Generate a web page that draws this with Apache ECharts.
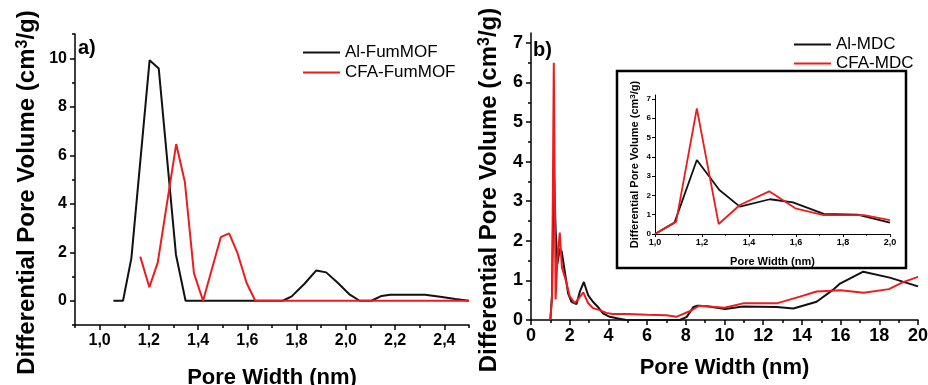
<!DOCTYPE html>
<html>
<head>
<meta charset="utf-8">
<script src="https://cdn.jsdelivr.net/npm/echarts@6/dist/echarts.min.js"></script>
<style>
  html, body { margin: 0; padding: 0; background: #fff; }
  #chart { width: 928px; height: 385px; }
</style>
</head>
<body>
<div id="chart"></div>
<script>
// panel a) - Al-FumMOF / CFA-FumMOF
const fumAlX = [1.056, 1.095, 1.129, 1.203, 1.24, 1.31, 1.349, 1.744, 1.78, 1.832, 1.88, 1.92, 1.968, 2.016, 2.056, 2.104, 2.145, 2.18, 2.227, 2.322, 2.39, 2.444, 2.5];
const fumAlY = [0, 0, 1.76, 9.92, 9.58, 1.9, 0, 0, 0.18, 0.7, 1.25, 1.17, 0.73, 0.25, 0, 0, 0.2, 0.25, 0.25, 0.25, 0.15, 0.07, 0];
const fumCfaX = [1.165, 1.202, 1.236, 1.311, 1.346, 1.383, 1.42, 1.492, 1.526, 1.56, 1.597, 1.632, 2.5];
const fumCfaY = [1.82, 0.56, 1.57, 6.46, 4.91, 1.14, 0, 2.62, 2.78, 1.96, 0.73, 0, 0];

// panel b) - Al-MDC / CFA-MDC, full range
const mdcAlX = [1.0, 1.083, 1.178, 1.274, 1.361, 1.489, 1.587, 1.8, 1.92, 2.09, 2.35, 2.52, 2.73, 2.95, 3.2, 3.46, 3.72, 4.07, 4.5, 4.93, 7.7, 8.05, 8.4, 8.6, 9.1, 10.03, 10.96, 12.7, 13.56, 14.76, 15.6, 15.97, 17.17, 18.54, 20.0];
const mdcAlY = [0, 0.59, 3.83, 2.28, 1.42, 1.8, 1.73, 1.05, 0.67, 0.46, 0.4, 0.71, 0.96, 0.63, 0.46, 0.33, 0.17, 0.08, 0.04, 0, 0, 0.08, 0.33, 0.36, 0.35, 0.28, 0.34, 0.33, 0.29, 0.46, 0.76, 0.92, 1.22, 1.07, 0.85];
const mdcCfaX = [1.0, 1.09, 1.178, 1.271, 1.361, 1.486, 1.597, 1.8, 2.0, 2.26, 2.4, 2.7, 2.95, 3.2, 3.55, 3.9, 4.2, 5.0, 6.0, 7.0, 7.5, 8.2, 8.7, 10.0, 10.96, 12.7, 13.9, 14.76, 16.0, 17.2, 18.5, 19.2, 20.0];
const mdcCfaY = [0, 0.64, 6.5, 0.52, 1.5, 2.21, 1.33, 1.0, 0.6, 0.43, 0.5, 0.7, 0.43, 0.3, 0.25, 0.18, 0.15, 0.15, 0.13, 0.12, 0.08, 0.22, 0.36, 0.31, 0.42, 0.42, 0.59, 0.72, 0.75, 0.69, 0.78, 0.95, 1.09];

// inset of panel b), 1-2 nm
const insetAlX = [1.0, 1.083, 1.178, 1.274, 1.361, 1.489, 1.587, 1.718, 1.861, 2.0];
const insetAlY = [0, 0.59, 3.83, 2.28, 1.42, 1.8, 1.64, 1.04, 1.0, 0.59];
const insetCfaX = [1.0, 1.09, 1.178, 1.271, 1.361, 1.486, 1.597, 1.718, 1.89, 2.0];
const insetCfaY = [0, 0.64, 6.5, 0.52, 1.5, 2.21, 1.33, 0.98, 0.98, 0.72];

// tick positions
const aXTicks = [1.0, 1.2, 1.4, 1.6, 1.8, 2.0, 2.2, 2.4];
const aXMinor = [0.9, 1.1, 1.3, 1.5, 1.7, 1.9, 2.1, 2.3, 2.5];
const aYTicks = [0, 2, 4, 6, 8, 10];
const aYMinor = [-1, 1, 3, 5, 7, 9, 11];
const bXTicks = [0, 2, 4, 6, 8, 10, 12, 14, 16, 18, 20];
const bXMinor = [1, 3, 5, 7, 9, 11, 13, 15, 17, 19];
const bYTicks = [0, 1, 2, 3, 4, 5, 6, 7];
const bYMinor = [0.5, 1.5, 2.5, 3.5, 4.5, 5.5, 6.5];
const inXTicks = [1.0, 1.2, 1.4, 1.6, 1.8, 2.0];
const inXMinor = [1.1, 1.3, 1.5, 1.7, 1.9];
const inYTicks = [0, 1, 2, 3, 4, 5, 6, 7];

const FONT = "'Liberation Sans', Arial, sans-serif";
const BLACK = "#111111";
const RED = "#ee1c1c";
const yTitle = "Differential Pore Volume (cm{sup|3}/g)";

const comma = (v) => v.toFixed(1).replace(".", ",");
const zip = (xs, ys) => xs.map((x, i) => [x, ys[i]]);

function axis(o) {
  const lw = o.lw ?? 1.5;
  return {
    type: "value",
    gridIndex: o.grid,
    position: o.position,
    min: o.min,
    max: o.max,
    splitLine: { show: false },
    axisLine: { show: !o.minor, onZero: false, lineStyle: { color: "#000", width: lw } },
    axisTick: {
      show: true,
      inside: false,
      customValues: o.ticks,
      length: o.minor ? o.tickLen * 0.6 : o.tickLen,
      lineStyle: { color: "#000", width: lw },
    },
    axisLabel: o.minor
      ? { show: false }
      : {
          customValues: o.ticks,
          formatter: o.fmt || ((v) => String(v)),
          color: "#000",
          fontFamily: FONT,
          fontWeight: "bold",
          fontSize: o.fontSize,
          margin: o.margin,
        },
    name: o.minor ? "" : o.name,
    nameLocation: "middle",
    nameGap: o.nameGap,
    nameTextStyle: o.nameStyle,
    silent: true,
  };
}

function yNameStyle(size, supSize, padRight) {
  return {
    color: "#000",
    fontFamily: FONT,
    fontWeight: "bold",
    fontSize: size,
    padding: [0, padRight, 0, 0],
    rich: {
      sup: { fontFamily: FONT, fontWeight: "bold", fontSize: supSize, verticalAlign: "top", color: "#000" },
    },
  };
}

function xNameStyle(size) {
  return { color: "#000", fontFamily: FONT, fontWeight: "bold", fontSize: size };
}

function line(name, x, y, color, xi, yi, width) {
  return {
    name,
    type: "line",
    xAxisIndex: xi,
    yAxisIndex: yi,
    data: zip(x, y),
    symbol: "none",
    showSymbol: false,
    lineStyle: { color, width },
    itemStyle: { color },
    z: color === RED ? 3 : 2,
  };
}

function legend(names, left, top, gap) {
  return {
    data: names,
    orient: "vertical",
    left,
    top,
    icon: "rect",
    itemWidth: 37,
    itemHeight: 2,
    itemGap: gap,
    selectedMode: false,
    textStyle: { fontFamily: FONT, fontSize: 17, color: "#000", lineHeight: 17 },
  };
}

const chart = echarts.init(document.getElementById("chart"), null, { renderer: "canvas" });

chart.setOption({
  animation: false,
  backgroundColor: "#fff",
  grid: [
    { left: 75, top: 34, width: 394, height: 291, outerBoundsMode: "none" },
    { left: 531, top: 33, width: 387, height: 287, outerBoundsMode: "none" },
    { left: 655, top: 95, width: 235, height: 139, outerBoundsMode: "none" },
  ],
  xAxis: [
    axis({ grid: 0, position: "bottom", min: 0.9, max: 2.5, ticks: aXTicks, fmt: comma, fontSize: 16, margin: 8, tickLen: 5,
      name: "Pore Width (nm)", nameGap: 42, nameStyle: xNameStyle(22) }),
    axis({ grid: 0, position: "bottom", min: 0.9, max: 2.5, ticks: aXMinor, minor: true, tickLen: 5 }),
    axis({ grid: 1, position: "bottom", min: 0, max: 20, ticks: bXTicks, fontSize: 18, margin: 7, tickLen: 5,
      name: "Pore Width (nm)", nameGap: 37, nameStyle: xNameStyle(22) }),
    axis({ grid: 1, position: "bottom", min: 0, max: 20, ticks: bXMinor, minor: true, tickLen: 5 }),
    axis({ grid: 2, position: "bottom", min: 1, max: 2, ticks: inXTicks, fmt: comma, fontSize: 9, margin: 4, tickLen: 3, lw: 1,
      name: "Pore Width (nm)", nameGap: 22, nameStyle: xNameStyle(11) }),
    axis({ grid: 2, position: "bottom", min: 1, max: 2, ticks: inXMinor, minor: true, tickLen: 3, lw: 1 }),
  ],
  yAxis: [
    axis({ grid: 0, position: "left", min: -1, max: 11, ticks: aYTicks, fontSize: 16, margin: 8, tickLen: 5,
      name: yTitle, nameGap: 36, nameStyle: yNameStyle(24, 16, 26) }),
    axis({ grid: 0, position: "left", min: -1, max: 11, ticks: aYMinor, minor: true, tickLen: 5 }),
    axis({ grid: 1, position: "left", min: 0, max: 7.25, ticks: bYTicks, fontSize: 18, margin: 8, tickLen: 5,
      name: yTitle, nameGap: 30, nameStyle: yNameStyle(24, 16, 27) }),
    axis({ grid: 1, position: "left", min: 0, max: 7.25, ticks: bYMinor, minor: true, tickLen: 5 }),
    axis({ grid: 2, position: "left", min: 0, max: 7.2, ticks: inYTicks, fontSize: 8, margin: 4, tickLen: 3, lw: 1,
      name: yTitle, nameGap: 15, nameStyle: yNameStyle(11, 8, 0) }),
  ],
  legend: [
    legend(["Al-FumMOF", "CFA-FumMOF"], 298, 39, 3),
    legend(["Al-MDC", "CFA-MDC"], 789, 31, 2),
  ],
  graphic: [
    {
      type: "rect",
      shape: { x: 617, y: 71, width: 289, height: 197 },
      style: { fill: "none", stroke: "#000", lineWidth: 2.5 },
      z: 1,
      silent: true,
    },
    { type: "text", left: 78, top: 38, style: { text: "a)", font: `bold 20px ${FONT}`, fill: "#000" }, z: 10 },
    { type: "text", left: 533, top: 40, style: { text: "b)", font: `bold 20px ${FONT}`, fill: "#000" }, z: 10 },
  ],
  series: [
    line("Al-FumMOF", fumAlX, fumAlY, BLACK, 0, 0, 2),
    line("CFA-FumMOF", fumCfaX, fumCfaY, RED, 0, 0, 2),
    line("Al-MDC", mdcAlX, mdcAlY, BLACK, 2, 2, 2),
    line("CFA-MDC", mdcCfaX, mdcCfaY, RED, 2, 2, 2),
    line("Al-MDC", insetAlX, insetAlY, BLACK, 4, 4, 1.8),
    line("CFA-MDC", insetCfaX, insetCfaY, RED, 4, 4, 1.8),
  ],
});
</script>
</body>
</html>
